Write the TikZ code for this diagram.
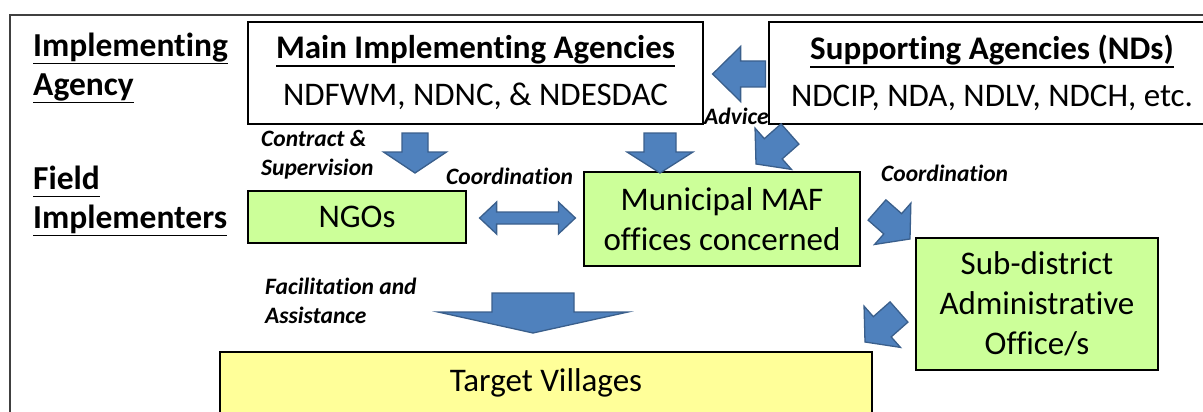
\documentclass[tikz,border=0pt]{standalone}
\usepackage{fontspec}
\setmainfont{Carlito}[Ligatures=NoCommon]
\usetikzlibrary{calc}
\usetikzlibrary{positioning}
\definecolor{arrowblue}{HTML}{4F81BD}
\definecolor{arrowedge}{HTML}{3A5F8C}
\definecolor{officegreen}{HTML}{CCFF99}
\definecolor{villageyellow}{HTML}{FFFF99}
\newcommand\uln[1]{\leavevmode\setbox0=\hbox{#1}\rlap{\rule[-0.25em]{\wd0}{0.055em}}\box0}
\tikzset{x=1pt, y=-1pt,
frame/.style={draw=black!75, line width=1.8pt},
agencybox/.style={ % white boxes of the agencies
draw, line width=1.2pt, fill=white, align=center, inner sep=0pt,
font=\fontsize{33}{47}\selectfont},
officebox/.style={agencybox, fill=officegreen, font=\fontsize{33}{40}\selectfont},
villagebox/.style={officebox, fill=villageyellow},
sidelabel/.style={anchor=west, align=left, inner sep=0pt,
font=\bfseries\fontsize{33.5}{39}\selectfont},
note/.style={anchor=west, align=left, inner sep=0pt,
font=\bfseries\itshape\fontsize{23.5}{29}\selectfont},
blockarrow/.style={fill=arrowblue, draw=arrowedge, line width=1.3pt, line join=miter}}
% block arrow: tail, tip, shaft width, head width, head length
\newcommand\blockarrow[5]{\path[blockarrow] let \p1=(#1), \p2=(#2),
\n1={atan2(\y2-\y1,\x2-\x1)}, \n2={veclen(\x2-\x1,\y2-\y1)} in
[shift={(\p1)}, rotate=\n1] (0,{-#3/2}) -- ({\n2-#5},{-#3/2}) -- ({\n2-#5},{-#4/2})
-- (\n2,0) -- ({\n2-#5},{#4/2}) -- ({\n2-#5},{#3/2}) -- (0,{#3/2}) -- cycle;}
% double block arrow: tip, tip, shaft width, head width, head length
\newcommand\doublearrow[5]{\path[blockarrow] let \p1=(#1), \p2=(#2),
\n1={atan2(\y2-\y1,\x2-\x1)}, \n2={veclen(\x2-\x1,\y2-\y1)} in
[shift={(\p1)}, rotate=\n1] (0,0) -- (#5,{-#4/2}) -- (#5,{-#3/2}) -- ({\n2-#5},{-#3/2})
-- ({\n2-#5},{-#4/2}) -- (\n2,0) -- ({\n2-#5},{#4/2}) -- ({\n2-#5},{#3/2})
-- (#5,{#3/2}) -- (#5,{#4/2}) -- cycle;}

\begin{document}
\begin{tikzpicture}
\useasboundingbox (0,0) rectangle (1203,412);
\draw[frame] (10,430) -- (10,15) -- (1220,15);
% levels
\node[sidelabel] (agency) at (33,68) {\uln{Implementing}\\\uln{Agency}};
\node[sidelabel] (field) at (33,201) {\uln{Field}\\\uln{Implementers}};
% boxes
\node[agencybox, minimum width=455pt, minimum height=102pt] (main) at (475.5,73)
{\uln{\textbf{Main Implementing Agencies}}\\NDFWM, NDNC, \& NDESDAC};
\node[agencybox, minimum width=446pt, minimum height=102pt] (supp) at (992,73)
{\uln{\textbf{Supporting Agencies (NDs)}}\\NDCIP, NDA, NDLV, NDCH, etc.};
\node[officebox, minimum width=218pt, minimum height=52pt] (ngos) at (357,217) {NGOs};
\node[officebox, minimum width=276pt, minimum height=94pt] (maf) at (722,219)
{Municipal MAF\\offices concerned};
\node[officebox, minimum width=242pt, minimum height=132pt] (subd) at (1037,304)
{Sub-district\\Administrative\\Office/s};
\node[villagebox, minimum width=652pt, minimum height=62pt] (target) at (546,383)
{Target Villages};
% arrow ends
\coordinate (adv-a) at ($(supp.west)+(-3,1)$);
\coordinate (adv-b) at ($(main.east)+(9,1)$);
\coordinate (con-a) at (415,133);
\coordinate (con-b) at (415,173);
\coordinate (mm-a) at (660,133);
\coordinate (mm-b) at (660,173);
\coordinate (sm-a) at (790,134);
\coordinate (sm-b) at (756,164);
\coordinate (ms-a) at (877,210);
\coordinate (ms-b) at (910,239);
\coordinate (st-a) at (899,312);
\coordinate (st-b) at (865,342);
\coordinate (ng-a) at ($(ngos.east)+(13,1)$);
\coordinate (ng-b) at ($(maf.west)+(-8,-1)$);
\coordinate (fac-a) at (533,293);
\coordinate (fac-b) at (533,333);
% arrows
\blockarrow{adv-a}{adv-b}{26}{55}{28}
\blockarrow{con-a}{con-b}{26}{63}{21}
\blockarrow{mm-a}{mm-b}{32}{66}{21}
\blockarrow{sm-a}{sm-b}{27}{55}{23}
\blockarrow{ms-a}{ms-b}{27}{55}{23}
\blockarrow{st-a}{st-b}{27}{55}{23}
\doublearrow{ng-a}{ng-b}{12}{32}{17}
\blockarrow{fac-a}{fac-b}{82}{190}{21}
% labels of the arrows
\node[note] (contract) at (261,155) {Contract \&\\Supervision};
\node[note] (coordleft) at (446,176) {Coordination};
\node[note] (coordright) at (881,173) {Coordination};
\node[note] (advice) at (704,116) {Advice};
\node[note] (facil) at (265,301) {Facilitation and\\Assistance};
\end{tikzpicture}
\end{document}
